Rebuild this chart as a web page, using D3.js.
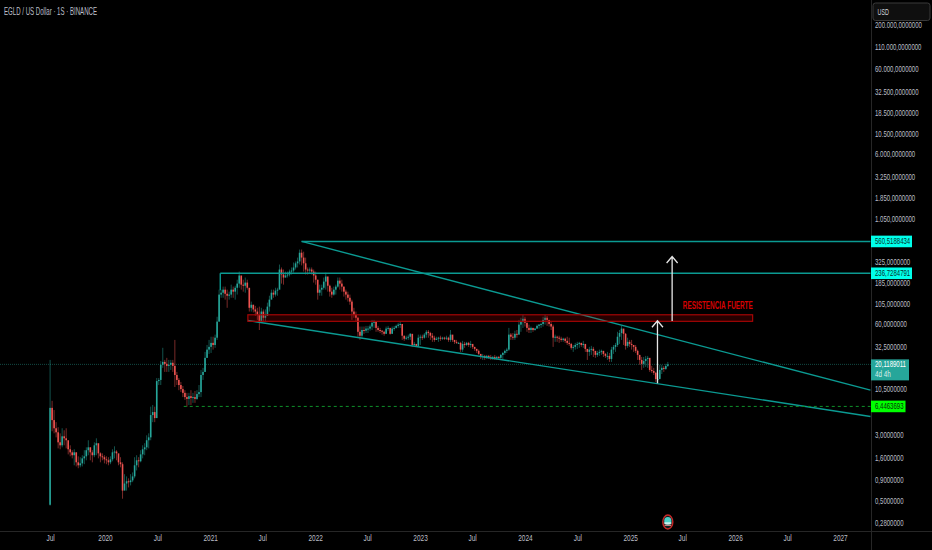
<!DOCTYPE html>
<html><head><meta charset="utf-8">
<script src="https://cdn.jsdelivr.net/npm/d3@7"></script>
<style>html,body{margin:0;padding:0;background:#000;overflow:hidden}svg{display:block}
text{font-family:"Liberation Sans",sans-serif}</style></head><body>
<svg id="c" width="932" height="550"></svg>
<script>
const firstWeek = "2019-06-24";
const closes = [
6.2,4.45,3.57,3.2,2.44,2.25,2.87,2.72,2.58,2.02,
1.86,1.72,1.86,1.42,1.31,1.38,1.58,1.67,1.97,2.13,
1.86,1.72,2.25,2.38,1.81,1.67,1.63,1.54,1.5,1.42,
1.54,1.86,1.9,1.81,1.42,1.35,.66,.8,.85,.83,
.87,.97,1.31,1.5,1.46,1.76,2.02,2.13,2.58,2.79,
5.1,5.53,4.7,12.8,13.2,19.9,21.5,20.4,19.3,19.9,
21,19.3,15.1,13.2,11.5,10.3,9.3,8.3,7.9,8.5,
8.1,8.3,7.9,9,9.5,15.1,16.4,24,30,32.3,
36,34,41.4,64,133,140,152,136,129,133,
152,144,160,179,223,174,169,184,160,93,
101,89,84,77,64,84,71,75,96,116,
140,133,148,152,262,229,211,223,229,
248,255,277,310,326,413,362,310,262,255,
262,248,223,199,140,152,160,189,217,169,
144,133,152,165,194,179,165,144,133,122,
110,84,77,71,48.6,43.7,51,50,53,53,
56,62,64,54,51,50,48.6,46,53,54,
46,53,54,57,59,60,43.7,40.3,41.4,42.5,
46,34,35,33.2,41.4,42.5,41.4,45,48.6,47,
43.7,41.4,39,40.3,41.4,40.3,41.4,40.3,41.4,39,
45,39,37,36,36,30,35,34,36,34,
35,32.3,30.6,29,26.7,24.6,25.3,24,25.3,24.6,
24,24.6,24,24.6,24,26,27.4,29,30,45,
42.5,41.4,46,45,59,64,69,62,54,51,
54,51,53,57,59,60,67,71,67,60,
56,41.4,42.5,41.4,40.3,39,40.3,38,36,35,
31.5,32.3,34,35,36,34,35,30.6,28.2,
30,30.6,29,26,27.4,28.2,29,26.7,25.3,25.3,
23.3,30,32.3,34,42.5,47,53,46,33.2,37,
35,34,32.3,29,26,22.7,20.4,22,23.3,24,
17.3,16.8,16,13.5,13.5,17.3,18.3,17.8,19.3,20.1189011];
const highs = [
22.7,7.5,5.84,4.21,3.67,3.11,3.57,3.38,3.57,2.38,
2.25,1.97,2.02,1.86,1.67,1.63,1.72,1.97,2.13,2.58,
2.13,1.97,2.44,2.72,2.25,1.86,1.81,1.72,1.67,1.63,
1.67,2.02,2.19,1.97,1.72,1.63,1.42,1.03,.97,.92,
1.03,1.08,1.63,1.72,1.63,1.97,2.25,2.38,2.95,3.11,
6.4,6.7,6.4,13.9,13.9,22,31.5,22.7,24,22.7,
22.7,22.7,39,16.4,13.9,12.5,11.2,10,9.3,9.3,
10,9.3,9.8,10,11.5,17.3,18.3,28.2,34,39,
42.5,42.5,45,73,152,152,165,165,152,144,
174,165,169,199,248,211,199,211,199,152,
110,101,98,93,96,93,89,89,107,129,
152,152,160,160,300,277,262,248,248,
262,277,317,326,362,450,450,425,362,277,
277,277,262,248,199,174,174,211,241,199,
174,160,165,174,211,211,199,165,152,144,
133,116,93,84,73,56,56,56,57,57,
59,67,67,64,57,54,51,50,56,57,
48.6,56,57,59,62,64,56,43.7,43.7,45,
47,39,37,34,45,45,45,47,51,51,
48.6,47,43.7,42.5,42.5,43.7,42.5,42.5,43.7,42.5,
51,41.4,39,39,37,37,38,37,37,37,
38,34,32.3,30.6,30,26.7,26.7,26,26,26,
26,25.3,26,25.3,25.3,26.7,28.2,30,31.5,54,
47,47,50,51,67,71,77,73,62,59,
56,54,54,59,60,62,73,77,75,67,
64,59,45,43.7,43.7,42.5,41.4,41.4,42.5,41.4,
36,34,36,37,37,36,38,34,30,
32.3,33.2,32.3,29,29,30,30,29,27.4,28.2,
27.4,32.3,34,36,48.6,51,57,51,47,41.4,
39,39,34,34,30,26,24.6,24.6,25.3,25.3,
19.9,19.3,18.3,16.4,16,19.9,19.9,19.3,20.4,21.5];
const lows = [
.44,3.29,3.11,2.79,2.07,2.02,2.13,2.25,2.07,1.76,
1.67,1.58,1.31,1.27,1.21,1.24,1.27,1.35,1.5,1.72,
1.5,1.42,1.63,1.72,1.58,1.42,1.5,1.38,1.35,1.31,
1.35,1.46,1.58,1.5,1.31,1.24,.53,.69,.66,.72,
.76,.83,.92,1.14,1.24,1.42,1.58,1.72,1.97,2.07,
2.58,4.21,4.21,5.84,11.5,11.5,18.3,16.4,16.4,16.4,
17.3,16.4,10.9,11.5,10,9.5,8.3,7.7,6.4,6.7,
6.7,7.1,7.1,7.7,8.3,8.3,13.2,16.4,24,26.7,
27.4,30,31.5,39,64,122,122,116,93,116,
122,122,116,133,160,152,144,140,152,84,
84,82,75,67,51,67,64,64,75,84,
122,122,126,129,165,179,174,211,211,
217,229,241,262,277,300,293,248,229,229,
235,229,184,174,116,129,129,152,152,144,
126,122,129,133,160,152,144,126,116,110,
101,67,71,64,42.5,39,41.4,46,47,47,
50,51,54,48.6,48.6,47,45,43.7,46,50,
45,46,50,53,54,54,39,38,39,39,
39,32.3,32.3,32.3,32.3,34,39,40.3,41.4,41.4,
39,37,37,39,37,38,39,39,39,37,
37,37,35,35,35,28.2,28.2,31.5,33.2,32.3,
31.5,30.6,29,27.4,26,23.3,22.7,22.7,23.3,23.3,
22.7,22.7,22.7,22.7,23.3,23.3,22.7,26,27.4,29,
39,39,39,41.4,45,48.6,54,56,48.6,47,
47,48.6,50,53,53,54,56,59,57,56,
51,32.3,37,37,36,37,37,36,34,33.2,
30,28.2,30,30.6,31.5,32.3,31.5,28.2,22.7,
25.3,26,24.6,24,24.6,25.3,26,24.6,24,22.7,
21.5,21.5,26.7,28.2,32.3,35,39,34,30,31.5,
32.3,30,28.2,27.4,22.7,19.9,17.3,18.3,18.8,18.3,
16.4,16,15.1,12.5,12.1,13.9,15.5,16.4,17.3,18.8];
const firstOpen = 0.45;
const priceTicks = [200000,110000,60000,32500,18500,10500,6000,3250,1850,1050,325,185,105,60,32.5,10.5,3,1.6,0.9,0.5,0.28];
const timeTicks = ["2019-06-24","2020-01-01","2020-07-01","2021-01-01","2021-07-01","2022-01-01","2022-07-01","2023-01-01","2023-07-01","2024-01-01","2024-07-01","2025-01-01","2025-07-01","2026-01-01","2026-07-01","2027-01-01"];
const levelHigh = 560.5188434, levelMid = 236.7284791, levelLast = 20.1189011, levelLow = 6.4463693;
const rightEdge = "2027-04-17";
const channelUpper = [["2021-11-15",levelHigh],[rightEdge,10.0]];
const channelLower = [["2021-05-12",66],[rightEdge,4.9]];
const levelHighLine = [["2021-11-15",levelHigh],[rightEdge,levelHigh]];
const levelMidLine = [["2021-02-05",levelMid],[rightEdge,levelMid]];
const levelMidStem = [["2021-02-05",levelMid],["2021-02-05",150]];
const levelLowLine = [["2020-10-01",levelLow],[rightEdge,levelLow]];
const zoneBox = {start:"2021-05-12",end:"2026-03-03",top:77,bottom:64.5};
const arrowShort = {date:"2025-04-06",from:12.1,to:65.5};
const arrowTall = {date:"2025-05-27",from:65,to:373};
const zoneLabel = {date:"2025-07-03",price:90,text:"RESISTENCIA FUERTE"};
const titleText = "EGLD / US Dollar · 1S · BINANCE";
const currency = "USD", countdown = "4d 4h";

const axisX = 871, axisY = 531.5;
const parse = d3.utcParse("%Y-%m-%d");
const x = d3.scaleUtc().domain([parse("2020-01-01"),parse("2027-01-01")]).range([105,840]);
const y = d3.scaleLog().domain([0.28,200000]).range([522.3,24.3]);
const fmt = d3.formatLocale({decimal:",",thousands:".",grouping:[3],currency:["",""]}).format(",.7f");
const svg = d3.select("#c");
svg.append("rect").attr("width",932).attr("height",550).attr("fill","#000");
const TEAL="#0b9a92", UP="#26a69a", DOWN="#ef5350", AXIS="#bcbfc7";
const place = (s,px,py,sx)=>s.attr("x",null).attr("y",null).attr("transform",`translate(${px},${py}) scale(${sx},1)`);

// last price line
svg.append("line").attr("x1",0).attr("x2",axisX).attr("y1",y(levelLast)).attr("y2",y(levelLast)).attr("stroke","#124a44").attr("stroke-dasharray","1 1");

// candles
const t0 = parse(firstWeek);
const bars = closes.map((c,i)=>({date:d3.utcWeek.offset(t0,i),c,h:highs[i],l:lows[i],o:i?closes[i-1]:firstOpen}));
const g = svg.append("g");
g.selectAll(".w").data(bars).join("line").attr("x1",d=>x(d.date)).attr("x2",d=>x(d.date))
 .attr("y1",d=>y(d.h)).attr("y2",d=>y(d.l)).attr("stroke",d=>d.c>=d.o?UP:DOWN).attr("stroke-width",1).attr("opacity",.5);
g.selectAll(".b").data(bars).join("rect").attr("x",d=>x(d.date)-.8).attr("width",1.6)
 .attr("y",d=>Math.min(y(d.o),y(d.c))).attr("height",d=>Math.max(1,Math.abs(y(d.o)-y(d.c))))
 .attr("fill",d=>d.c>=d.o?UP:DOWN);

// annotations
const line = d3.line().x(d=>x(parse(d[0]))).y(d=>y(d[1]));
[levelHighLine,levelMidLine,levelMidStem,channelUpper,channelLower].forEach(p=>
  svg.append("path").attr("d",line(p)).attr("fill","none").attr("stroke",TEAL).attr("stroke-width",1.4));
svg.append("path").attr("d",line(levelLowLine)).attr("fill","none").attr("stroke","#0f8f2a").attr("stroke-width",1).attr("stroke-dasharray","3 3");

svg.append("rect").attr("x",x(parse(zoneBox.start))).attr("y",y(zoneBox.top))
 .attr("width",x(parse(zoneBox.end))-x(parse(zoneBox.start))).attr("height",y(zoneBox.bottom)-y(zoneBox.top))
 .attr("fill","#c00000").attr("fill-opacity",.2).attr("stroke","#a50505").attr("stroke-width",1.2);
svg.append("text").attr("fill","#d80000").attr("font-size",10).attr("font-weight","bold").text(zoneLabel.text)
 .call(place,x(parse(zoneLabel.date)),y(zoneLabel.price),.64);

[arrowShort,arrowTall].forEach(a=>{
  const ax=x(parse(a.date)), y1=y(a.from), y2=y(a.to);
  svg.append("path").attr("fill","none").attr("stroke","#e6e6e6").attr("stroke-width",1.3)
   .attr("d",`M${ax},${y1}L${ax},${y2}M${ax-5.5},${y2+6.5}L${ax},${y2}L${ax+5.5},${y2+6.5}`);
});

// axes
svg.append("line").attr("x1",axisX+.5).attr("x2",axisX+.5).attr("y1",0).attr("y2",550).attr("stroke","#262626");
svg.append("line").attr("x1",0).attr("x2",932).attr("y1",axisY).attr("y2",axisY).attr("stroke","#262626");
const ya = svg.append("g").attr("transform",`translate(${axisX},0)`).call(d3.axisRight(y).tickValues(priceTicks).tickSize(0).tickFormat(fmt));
ya.select(".domain").remove();
ya.selectAll("text").attr("fill",AXIS).attr("font-size",9).attr("x",null).attr("transform","translate(4,0) scale(.67,1)");
const monthFmt = d=>d.getUTCMonth()===0?String(d.getUTCFullYear()):"Jul";
const xa = svg.append("g").attr("transform",`translate(0,${axisY})`).call(d3.axisBottom(x).tickValues(timeTicks.map(parse)).tickSize(0).tickPadding(3).tickFormat(monthFmt));
xa.select(".domain").remove();
xa.selectAll("text").attr("fill",AXIS).attr("font-size",9).attr("text-anchor","middle").attr("transform","scale(.72,1)");

// price tags
function tag(v,w,fill,color){
  const cy=y(v);
  svg.append("rect").attr("x",axisX).attr("y",cy-5.8).attr("width",w).attr("height",11.6).attr("fill",fill);
  svg.append("text").attr("fill",color).attr("font-size",9).text(fmt(v)).call(place,axisX+4,cy+3,.67);
}
tag(levelHigh,41,"#00ffea","#06302e");
tag(levelMid,41,"#00ffea","#06302e");
tag(levelLow,34.5,"#00ff00","#063006");
svg.append("rect").attr("x",axisX).attr("y",y(levelLast)-5).attr("width",38).attr("height",21).attr("fill","#26a69a");
svg.append("text").attr("fill","#fff").attr("font-size",9).text(fmt(levelLast)).call(place,axisX+4,y(levelLast)+3,.67);
svg.append("text").attr("fill","#d7efec").attr("font-size",9).text(countdown).call(place,axisX+4,y(levelLast)+13,.7);

// currency box
svg.append("rect").attr("x",873).attr("y",3).attr("width",57).attr("height",17.5).attr("rx",2.5).attr("fill","#0f0f0f").attr("stroke","#3a3a3a");
svg.append("text").attr("fill","#d1d4dc").attr("font-size",9).text(currency).call(place,877.5,15,.6);

// title
svg.append("text").attr("fill",AXIS).attr("font-size",10).text(titleText).call(place,4,14.5,.61);

// event marker
const ev = svg.append("g").attr("transform",`translate(${x(parse("2025-05-12"))},522)`);
ev.append("ellipse").attr("rx",5).attr("ry",7).attr("fill","#0a2020").attr("stroke","#c62828").attr("stroke-width",1.4);
ev.append("ellipse").attr("cy",-1).attr("rx",3.6).attr("ry",4).attr("fill","#4dd0c8");
ev.append("rect").attr("x",-3.6).attr("y",.5).attr("width",7.2).attr("height",1.2).attr("fill","#fff");
ev.append("rect").attr("x",-3.2).attr("y",2.6).attr("width",6.4).attr("height",1.2).attr("fill","#ef9a9a");
</script></body></html>
